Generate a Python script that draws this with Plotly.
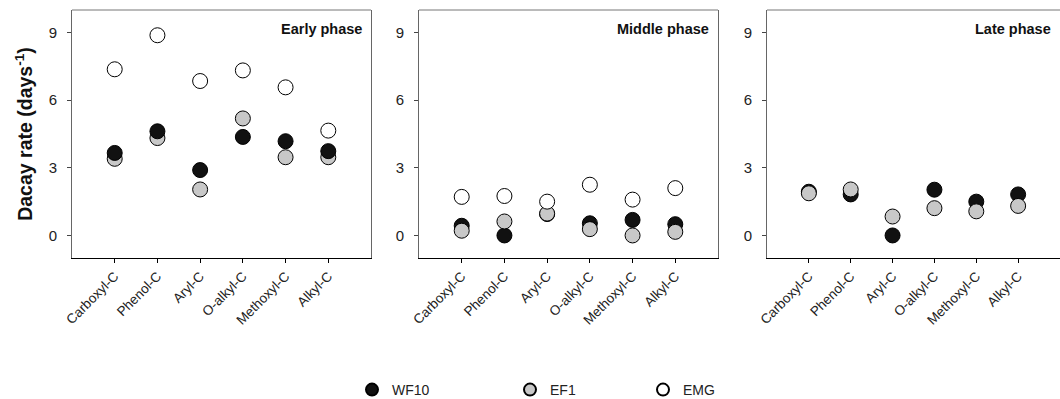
import plotly.graph_objects as go

categories = ["Carboxyl-C", "Phenol-C", "Aryl-C", "O-alkyl-C", "Methoxyl-C", "Alkyl-C"]
phases = ["Early phase", "Middle phase", "Late phase"]

early_wf10 = [3.66, 4.62, 2.90, 4.37, 4.18, 3.74]
early_ef1 = [3.40, 4.32, 2.04, 5.19, 3.47, 3.47]
early_emg = [7.37, 8.88, 6.85, 7.32, 6.57, 4.65]

middle_wf10 = [0.43, 0.00, 0.95, 0.54, 0.69, 0.50]
middle_ef1 = [0.21, 0.62, 0.97, 0.28, 0.00, 0.16]
middle_emg = [1.71, 1.75, 1.50, 2.25, 1.59, 2.10]

late_wf10 = [1.94, 1.82, 0.00, 2.03, 1.50, 1.82]
late_ef1 = [1.87, 2.04, 0.84, 1.21, 1.07, 1.31]

series_names = ["WF10", "EF1", "EMG"]
colors = {"WF10": "#111111", "EF1": "#c8c8c8", "EMG": "#ffffff"}

y_ticks = [0, 3, 6, 9]

W, H = 1060, 399
domains = [(72 / W, 371 / W), (419 / W, 718 / W), (767 / W, 1.0)]

fig = go.Figure()

# draw order per panel (to reproduce overlaps)
panels = [
    [("EF1", early_ef1), ("WF10", early_wf10), ("EMG", early_emg)],
    [("WF10", middle_wf10), ("EF1", middle_ef1), ("EMG", middle_emg)],
    [("WF10", late_wf10), ("EF1", late_ef1)],
]

legend_keys = {"WF10": "legend", "EF1": "legend2", "EMG": "legend3"}

for i, panel in enumerate(panels):
    ax = "" if i == 0 else str(i + 1)
    for name, vals in panel:
        fig.add_trace(go.Scatter(
            x=list(range(len(categories))), y=vals, mode="markers", name=name,
            marker=dict(size=15, color=colors[name], line=dict(color="#000000", width=1)),
            xaxis="x" + ax, yaxis="y" + ax,
            showlegend=(i == 1), legend=legend_keys[name],
        ))

layout = dict(
    width=W, height=H,
    margin=dict(l=0, r=0, t=10, b=141, autoexpand=False),
    paper_bgcolor="white", plot_bgcolor="white",
    font=dict(family="Liberation Sans, Arial, sans-serif", color="#222222"),
    annotations=[], shapes=[],
)

for i in range(3):
    ax = "" if i == 0 else str(i + 1)
    layout["xaxis" + ax] = dict(
        domain=list(domains[i]), range=[-1, 6],
        tickmode="array", tickvals=list(range(len(categories))), ticktext=categories,
        tickangle=-45, tickfont=dict(size=13.5, color="#222222"),
        showline=True, linecolor="#000000", linewidth=1.2, mirror=False,
        ticks="outside", ticklen=4, tickcolor="#000000",
        showgrid=False, zeroline=False, anchor="y" + ax, automargin=False,
    )
    layout["yaxis" + ax] = dict(
        domain=[0, 1], range=[-1, 10],
        tickmode="array", tickvals=y_ticks, ticktext=[str(t) for t in y_ticks],
        tickfont=dict(size=15, color="#222222"), ticklabelstandoff=7,
        showline=True, linecolor="#666666", linewidth=1, mirror=True,
        ticks="outside", ticklen=4, tickcolor="#444444",
        showgrid=False, zeroline=False, anchor="x" + ax, automargin=False,
    )
    layout["annotations"].append(dict(
        text="<b>" + phases[i] + "</b>", xref=("x" + ax + " domain"), yref=("y" + ax + " domain"),
        x=0.975, y=0.925, xanchor="right", yanchor="middle", showarrow=False,
        font=dict(size=14.5, color="#111111"),
    ))
    layout["shapes"].append(dict(
        type="line", xref=("x" + ax + " domain"), yref=("y" + ax + " domain"),
        x0=0, x1=1, y0=1, y1=1, line=dict(color="#777777", width=1),
    ))

layout["yaxis"]["title"] = dict(
    text="<b>Dacay rate (days<sup>-1</sup>)</b>", font=dict(size=19.5, color="#111111"), standoff=10,
)

legend_x = {"legend": 352 / W, "legend2": 510 / W, "legend3": 643 / W}
for key, xp in legend_x.items():
    layout[key] = dict(
        x=xp, y=(H - 390) / H, yref="container", xanchor="left", yanchor="middle",
        orientation="h",
        font=dict(size=14, color="#222222"), bgcolor="rgba(0,0,0,0)", itemsizing="constant",
    )

fig.update_layout(**layout)
fig.write_html("out.html")
